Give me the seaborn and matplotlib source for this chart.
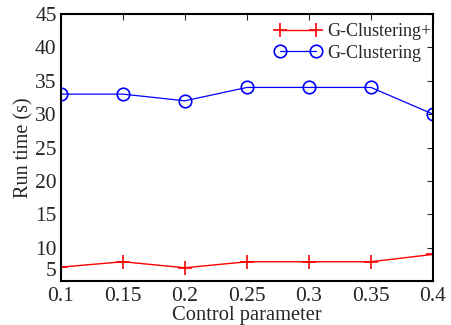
import matplotlib
matplotlib.use("Agg")
import matplotlib.pyplot as plt
import seaborn as sns
import pandas as pd

control = [0.1, 0.15, 0.2, 0.25, 0.3, 0.35, 0.4]
g_clustering_plus = [7.1, 7.9, 7.0, 7.9, 7.9, 7.9, 9.0]
g_clustering = [33.0, 33.0, 32.0, 34.0, 34.0, 34.0, 30.0]
yticks = [5, 10, 15, 20, 25, 30, 35, 40, 45]
xticklabels = ["0.1", "0.15", "0.2", "0.25", "0.3", "0.35", "0.4"]

sns.set_style("white")
plt.rcParams['font.family'] = ['Liberation Serif', 'DejaVu Serif']

fig = plt.figure(figsize=(4.51, 3.25), dpi=100)
ax = fig.add_axes([0.135, 0.135, 0.825, 0.822])

df = pd.DataFrame({"x": control, "plus": g_clustering_plus, "base": g_clustering})
sns.lineplot(data=df, x="x", y="plus", ax=ax, color="red", marker="+",
             markersize=10, markeredgecolor="red", markeredgewidth=1.2,
             linewidth=1.0, label="G-Clustering+")
sns.lineplot(data=df, x="x", y="base", ax=ax, color="blue", marker="o",
             markersize=9, markerfacecolor="none", markeredgecolor="blue",
             markeredgewidth=1.2, linewidth=0.9, label="G-Clustering")

ax.set_xlim(0.1, 0.4)
ax.set_ylim(5, 45)
ax.set_xticks(control)
ax.set_xticklabels(xticklabels)
ax.set_yticks(yticks)
ax.tick_params(direction="in", top=True, right=True, length=4, width=0.8,
               labelsize=15.5)
ax.tick_params(axis="x", pad=4)
ax.tick_params(axis="y", pad=3)
ax.get_yticklabels()[0].set_verticalalignment("bottom")
for s in ax.spines.values():
    s.set_linewidth(1.5)
    s.set_color("black")
ax.set_xlabel("Control parameter", fontsize=14.8, labelpad=0)
ax.set_ylabel("Run time (s)", fontsize=14.5, labelpad=1)
ax.legend(loc="upper right", numpoints=2, frameon=False, fontsize=13,
          handlelength=2.6, handletextpad=0.3, borderaxespad=0.1,
          labelspacing=0.25, bbox_to_anchor=(1.02, 1.0))

fig.savefig("out.png", dpi=100)
